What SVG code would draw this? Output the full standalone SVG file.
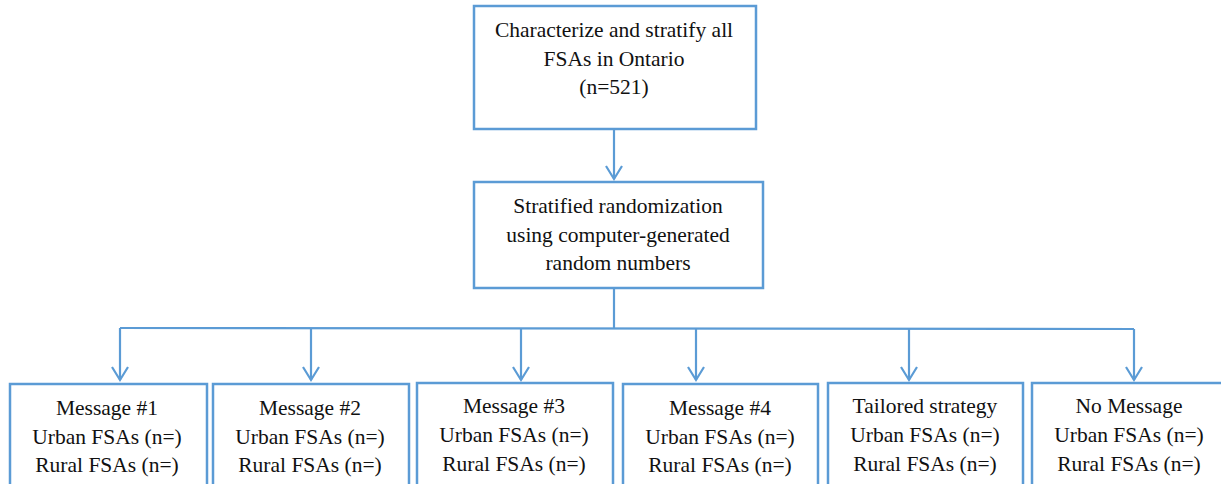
<svg xmlns="http://www.w3.org/2000/svg" width="1221" height="484" viewBox="0 0 1221 484">
<style>
.box{fill:#fff;stroke:#5B9BD5;stroke-width:2.5}
.ln{fill:none;stroke:#5B9BD5;stroke-width:2.2}
.t{font-family:'Liberation Serif','Times New Roman',serif;font-size:21.5px;fill:#111;text-anchor:middle}
</style>
<defs>
<marker id="ah" markerWidth="18" markerHeight="20" refX="14" refY="9" orient="auto" markerUnits="userSpaceOnUse" viewBox="0 0 18 20">
<path d="M1,1 L14,9 L1,17" fill="none" stroke="#5B9BD5" stroke-width="2.2"/>
</marker>
</defs>
<rect width="1221" height="484" fill="#fff"/>
<g id="connectors">
<line class="ln" x1="614" y1="129" x2="614" y2="179" marker-end="url(#ah)"/>
<line class="ln" x1="614" y1="288" x2="614" y2="328"/>
<line class="ln" x1="120" y1="328" x2="1134" y2="329"/>
<line class="ln" x1="120" y1="328" x2="120" y2="380" marker-end="url(#ah)"/>
<line class="ln" x1="311" y1="328" x2="311" y2="380" marker-end="url(#ah)"/>
<line class="ln" x1="521" y1="328" x2="521" y2="380" marker-end="url(#ah)"/>
<line class="ln" x1="696" y1="328" x2="696" y2="380" marker-end="url(#ah)"/>
<line class="ln" x1="909" y1="328" x2="909" y2="380" marker-end="url(#ah)"/>
<line class="ln" x1="1134" y1="329" x2="1134" y2="380" marker-end="url(#ah)"/>
</g>
<g class="t">
<g id="n-top">
<rect class="box" x="474" y="6" width="282" height="123"/>
<text x="614" y="37">Characterize and stratify all</text>
<text x="614" y="66">FSAs in Ontario</text>
<text x="614" y="94">(n=521)</text>
</g>
<g id="n-rand">
<rect class="box" x="474" y="182" width="289" height="106"/>
<text x="618" y="213">Stratified randomization</text>
<text x="618" y="242">using computer-generated</text>
<text x="618" y="270">random numbers</text>
</g>
<g id="n-m1">
<rect class="box" x="10" y="384" width="197" height="110"/>
<text x="107" y="415">Message #1</text>
<text x="107" y="444">Urban FSAs (n=)</text>
<text x="107" y="472">Rural FSAs (n=)</text>
</g>
<g id="n-m2">
<rect class="box" x="213" y="384" width="196" height="110"/>
<text x="310" y="415">Message #2</text>
<text x="310" y="444">Urban FSAs (n=)</text>
<text x="310" y="472">Rural FSAs (n=)</text>
</g>
<g id="n-m3">
<rect class="box" x="417" y="383" width="196" height="111"/>
<text x="514" y="413">Message #3</text>
<text x="514" y="442">Urban FSAs (n=)</text>
<text x="514" y="471">Rural FSAs (n=)</text>
</g>
<g id="n-m4">
<rect class="box" x="623" y="384" width="195" height="110"/>
<text x="720" y="415">Message #4</text>
<text x="720" y="444">Urban FSAs (n=)</text>
<text x="720" y="472">Rural FSAs (n=)</text>
</g>
<g id="n-tailored">
<rect class="box" x="828" y="383" width="195" height="111"/>
<text x="925" y="413">Tailored strategy</text>
<text x="925" y="442">Urban FSAs (n=)</text>
<text x="925" y="471">Rural FSAs (n=)</text>
</g>
<g id="n-none">
<rect class="box" x="1032" y="383" width="195" height="111"/>
<text x="1129" y="413">No Message</text>
<text x="1129" y="442">Urban FSAs (n=)</text>
<text x="1129" y="471">Rural FSAs (n=)</text>
</g>
</g>
</svg>
